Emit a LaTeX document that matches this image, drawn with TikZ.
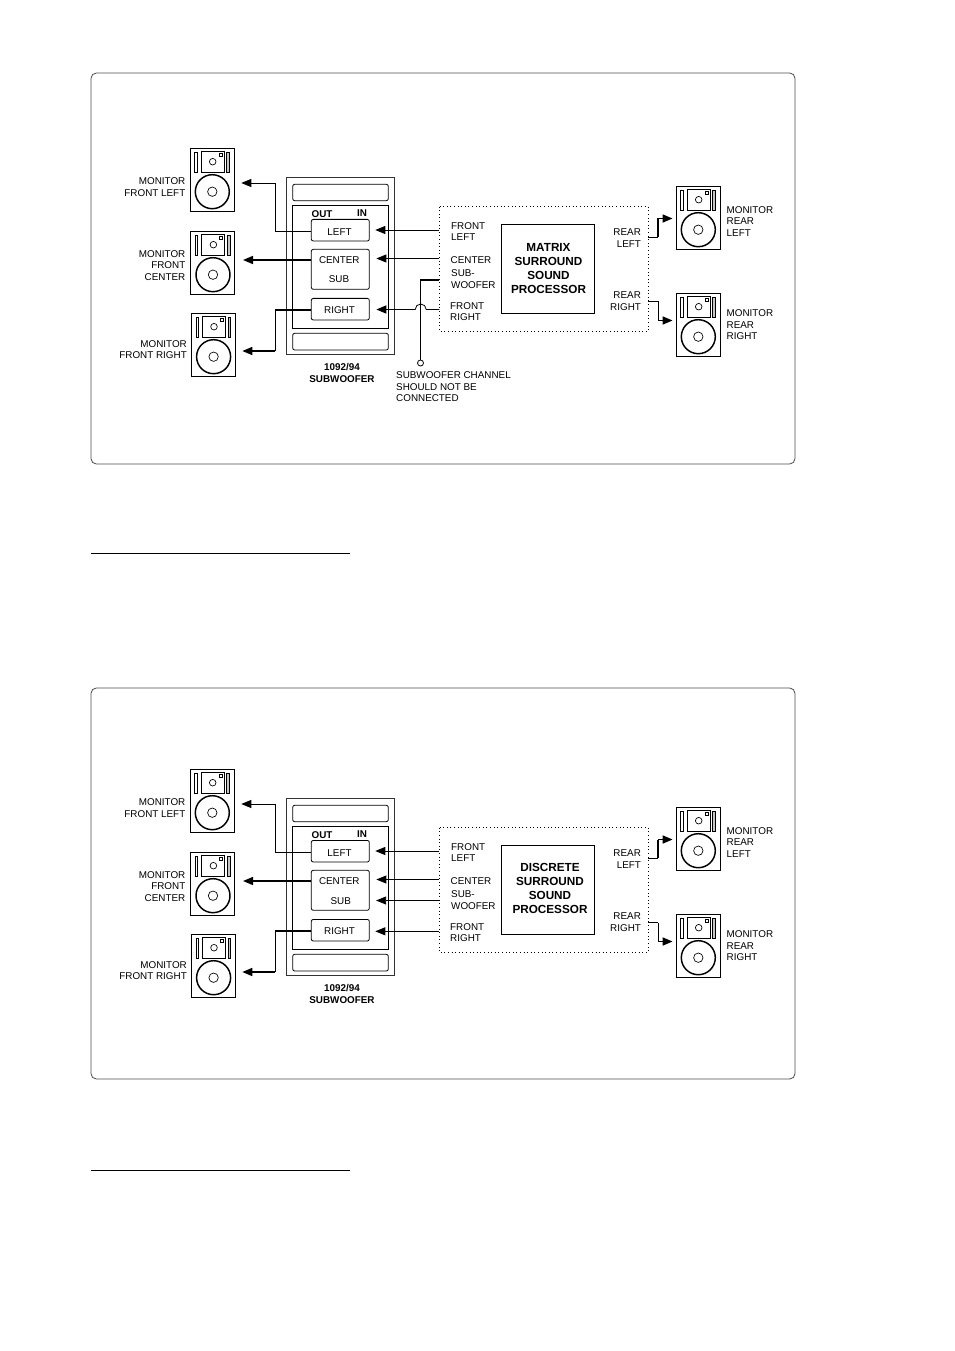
\documentclass[tikz,border=0pt]{standalone}
\usepackage{fontspec}
\setmainfont{Liberation Sans}
\usetikzlibrary{arrows.meta}

\tikzset{every picture/.style={line width=0.6pt}}
\tikzset{
  lbl/.style={inner sep=0pt,font=\fontsize{7.4}{8.6}\selectfont},
  lblb/.style={inner sep=0pt,align=center,font=\fontsize{7.4}{9}\selectfont\bfseries},
  titlelbl/.style={inner sep=0pt,align=center,font=\fontsize{8.8}{10.5}\selectfont\bfseries},
  chanbox/.style={draw,rounded corners=1.5pt,minimum width=43.5pt,inner sep=0pt,font=\fontsize{7.4}{8.6}\selectfont},
  wire/.style={line width=0.6pt},
  wirethick/.style={line width=1.2pt},
  tip/.style={-{Triangle[length=7.5pt,width=6pt]}},
  monitorbox/.style={draw,fill=white,line width=0.5pt,minimum width=33pt,minimum height=47.25pt,inner sep=0pt},
  pics/monitor/.style={code={
    \node[monitorbox] (-box) at (0,0) {};
    \begin{scope}[yscale=-1]
    \draw[line width=0.5pt] (-11,-28.5) rectangle (12,-6.8);
    \draw[line width=0.4pt] (-17.5,-27.5) rectangle (-15,-7.5);
    \draw[line width=0.4pt,fill=gray!45] (14.5,-27.5) rectangle (17.3,-7.5);
    \draw[line width=1.1pt] (0.3,12.2) circle (17);
    \draw[line width=0.5pt] (0.3,12.2) circle (4.7);
    \draw[line width=0.5pt] (0.7,-17.8) circle (3.3);
    \draw[line width=0.4pt] (6.8,-26.3) rectangle (9.8,-23.3);
    \end{scope}
  }}
}

\newcommand{\hookup}[2]{%
%Monitors
\pic (mfl) at (212,179.5) {monitor};
\pic (mfc) at (212.7,262.5) {monitor};
\pic (mfr) at (213.3,344.5) {monitor};
\pic (mrl) at (698,217.5) {monitor};
\pic (mrr) at (698,324.5) {monitor};
%Subwoofer
\draw[line width=0.7pt,draw=black!80] (286.7,177.7) rectangle (394.3,354.3);
\draw[rounded corners=1.5pt] (292.7,184.3) rectangle (388.3,200.7);
\draw (292.7,205.3) rectangle (388.3,328.3);
\draw[rounded corners=1.5pt] (292.7,333.3) rectangle (388.3,350);
\node[chanbox,minimum height=16.2pt] (lft) at (340.3,230.2) {};
\node[chanbox,minimum height=30pt] (ctr) at (340.3,269.3) {};
\node[chanbox,minimum height=16.2pt] (rgt) at (340.3,309.2) {};
%Processor
\draw[line width=0.7pt,dotted] (439.3,206.7) rectangle (648.3,331.3);
\node[draw,minimum width=69.75pt,minimum height=66.75pt,inner sep=0pt] (proc) at (547.8,268.8) {};
% Text Node
\node[titlelbl] (proctxt) at (#2) {#1};
\node[lbl,anchor=east,align=right] (tfl) at (185.7,187.3) {MONITOR\\FRONT LEFT};
\node[lbl,anchor=east,align=right] (tfc) at (185.7,265.3) {MONITOR\\FRONT\\CENTER};
\node[lbl,anchor=east,align=right] (tfr) at (187.2,349.8) {MONITOR\\FRONT RIGHT};
\node[lbl,anchor=west,align=left] (trl) at (726.3,221.3) {MONITOR\\REAR\\LEFT};
\node[lbl,anchor=west,align=left] (trr) at (726.3,324.8) {MONITOR\\REAR\\RIGHT};
\node[lbl] (tlft) at (339.5,232) {LEFT};
\node[lbl] (tctr) at (339.3,260.5) {CENTER};
\node[lbl] (trgt) at (339.5,310) {RIGHT};
\node[lblb] (tout) at (322,214) {OUT};
\node[lblb] (tin) at (362,213) {IN};
\node[lblb] (tsub) at (342,373) {1092/94\\SUBWOOFER};
\node[lbl,anchor=west,align=left] (pfl) at (450.8,231.3) {FRONT\\LEFT};
\node[lbl,anchor=west] (pctr) at (450.3,260) {CENTER};
\node[lbl,anchor=west,align=left] (psub) at (450.8,279.3) {SUB-\\WOOFER};
\node[lbl,anchor=west,align=left] (pfr) at (449.8,311.8) {FRONT\\RIGHT};
\node[lbl,anchor=east,align=right] (prl) at (641.3,238.3) {REAR\\LEFT};
\node[lbl,anchor=east,align=right] (prr) at (641.3,301.3) {REAR\\RIGHT};
%Connectors
\coordinate (inl) at (439.3,230);
\coordinate (inc) at (439.3,258.5);
\coordinate (elbl) at (275,183);
\coordinate (elbr) at (275,351);
\coordinate (outl) at (648.3,237);
\coordinate (outr) at (648.3,301.5);
\coordinate (elbrl) at (658,218.5);
\coordinate (elbrr) at (658,320.5);
\draw[wire,tip,shorten >=4.2pt] (inl) -- (inl -| lft.east);
\draw[wire,tip,shorten >=5pt] (inc) -- (inc -| ctr.east);
\draw[wire] (lft.west |- 0,231) -| (elbl);
\draw[wire,tip,shorten >=5.2pt] (elbl) -- (elbl -| mfl-box.east);
\draw[wirethick,tip,shorten >=6pt] (ctr.west |- 0,260) -- (mfc-box.east |- 0,260);
\draw[wirethick] (rgt.west |- 0,310) -- (elbr |- 0,310);
\draw[wire] (elbr |- 0,310) -- (elbr);
\draw[wirethick,tip,shorten >=5pt] (elbr) -- (elbr -| mfr-box.east);
\draw[wire] (outl) -- (elbrl |- outl);
\draw[wirethick] (elbrl |- outl) -- (elbrl);
\draw[wirethick,tip,shorten >=2.3pt] (elbrl) -- (elbrl -| mrl-box.west);
\draw[wirethick] (outr) -- (elbrr |- outr);
\draw[wire] (elbrr |- outr) -- (elbrr);
\draw[wirethick,tip,shorten >=2.3pt] (elbrr) -- (elbrr -| mrr-box.west);
}

\begin{document}
\begin{tikzpicture}[x=0.75pt,y=0.75pt,yscale=-1,xscale=1]
\useasboundingbox (0,0) rectangle (954,1351);

%Panels and rules
\draw[draw=black!70,rounded corners=4pt] (91,73) rectangle (795,464);
\draw[line width=0.7pt] (91,553) -- (350,553);
\draw[draw=black!70,rounded corners=4pt] (91,688) rectangle (795,1079);
\draw[line width=0.7pt] (91,1170) -- (350,1170);

%Upper hookup
\hookup{MATRIX\\SURROUND\\SOUND\\PROCESSOR}{548.5,269}
\node[lbl] (tsubw) at (339,279.5) {SUB};
\coordinate (inr) at (439.3,309.5);
\coordinate (jump) at (426.2,309.5);
\coordinate (insub) at (439.3,280);
\coordinate (nocon) at (420.5,280);
\node[draw,circle,fill=white,minimum size=4.5pt,inner sep=0pt] (opn) at (420.5,363) {};
\node[lbl,anchor=west,align=left] (tnote) at (395.8,386.8) {SUBWOOFER CHANNEL\\SHOULD NOT BE\\CONNECTED};
\draw[wire] (inr) -- (jump) arc[start angle=0,end angle=-180,radius=5.5] -- ++(-1.5,0);
\draw[wirethick,tip,shorten >=5pt] (413.7,309.5) -- (rgt.east |- inr);
\draw[wire,line width=0.8pt] (insub) -- (nocon) -- (opn);

%Lower hookup
\begin{scope}[shift={(0,621)}]
\hookup{DISCRETE\\SURROUND\\SOUND\\PROCESSOR}{550,267.5}
\node[lbl] (tsubw) at (340.7,280) {SUB};
\coordinate (inr) at (439.3,310.3);
\coordinate (insub) at (439.3,279.5);
\draw[wire,tip,shorten >=4.8pt] (insub) -- (insub -| ctr.east);
\draw[wire,tip,shorten >=4.2pt] (inr) -- (inr -| rgt.east);
\end{scope}

\end{tikzpicture}
\end{document}
